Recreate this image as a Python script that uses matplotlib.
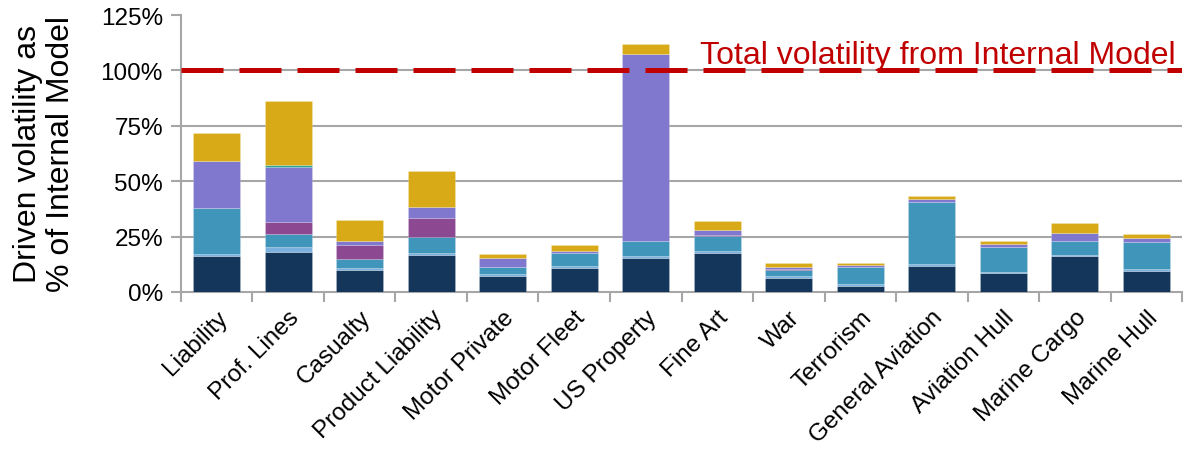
import numpy as np
from matplotlib import pyplot as plt

plt.rcParams['font.family'] = ['Liberation Sans', 'DejaVu Sans']

# Categories and stacked segments (in % of Internal Model volatility)
categories = ["Liability", "Prof. Lines", "Casualty", "Product Liability", "Motor Private",
              "Motor Fleet", "US Property", "Fine Art", "War", "Terrorism",
              "General Aviation", "Aviation Hull", "Marine Cargo", "Marine Hull"]

navy = [16.3, 18.1, 10.1, 16.7, 7.4, 10.7, 15.5, 17.8, 6.5, 2.6, 11.6, 8.4, 16.1, 9.6]
light_blue = [1.0, 2.2, 0.5, 0.8, 0.6, 0.9, 0.8, 0.9, 0.7, 1.0, 0.9, 0.8, 0.8, 0.8]
teal = [20.5, 5.8, 4.2, 7.5, 3.4, 6.2, 6.6, 6.6, 2.9, 7.7, 28.2, 11.3, 6.0, 12.3]
magenta = [0, 5.4, 6.2, 8.6, 0, 0, 0, 0.3, 0.3, 0, 0, 0, 0, 0]
lavender = [21.1, 25.0, 1.8, 4.8, 4.1, 0.9, 84.6, 2.4, 0.9, 0.9, 1.3, 1.2, 3.9, 1.6]
green = [0, 0.7, 0, 0, 0, 0, 0, 0, 0, 0, 0, 0, 0, 0]
gold = [12.8, 28.8, 9.7, 16.1, 1.7, 2.4, 4.6, 4.1, 1.7, 0.9, 1.5, 1.5, 4.2, 1.9]

segments = [navy, light_blue, teal, magenta, lavender, green, gold]
colors = ['#14365A', '#7CB0DE', '#4096BA', '#8D4892', '#8078CE', '#2FA39A', '#D9AA18']

total_line = 100
yticks = [0, 25, 50, 75, 100, 125]

fig = plt.figure(figsize=(11.93, 4.52), dpi=100)
ax = fig.add_axes([0.1517, 0.3518, 0.8391, 0.6128])

x = np.arange(len(categories))
bottom = np.zeros(len(categories))
for seg, col in zip(segments, colors):
    ax.bar(x, seg, bottom=bottom, width=0.66, color=col,
           edgecolor=(1, 1, 1, 0.2), linewidth=0.6, zorder=3)
    bottom += np.array(seg)

# gridlines
for t in yticks[1:-1]:
    ax.axhline(t, color='#A6A6A6', lw=1.5, zorder=1)

ax.axhline(total_line, color='#C00000', lw=3.6, dashes=(8.4, 3.2), zorder=4)
ax.text(0.994, 0.8, "Total volatility from Internal Model", transform=ax.transAxes,
        ha='right', va='bottom', color='#C00000', fontsize=23)

ax.set_xlim(-0.5, len(categories) - 0.5)
ax.set_ylim(0, 125)
ax.set_yticks(yticks)
ax.set_yticklabels([f"{t}%" for t in yticks], fontsize=17.5)
ax.set_xticks(x)
ax.set_xticklabels(categories, rotation=45, ha='right', rotation_mode='anchor', fontsize=17.5)
ax.tick_params(axis='x', length=0, pad=10)
ax.set_xticks(np.arange(-0.5, len(categories)), minor=True)
ax.tick_params(axis='x', which='minor', length=7, color='#A6A6A6', width=1.5)
ax.tick_params(axis='y', length=7, color='#A6A6A6', width=1.5, pad=6)

for s in ['top', 'right']:
    ax.spines[s].set_visible(False)
for s in ['left', 'bottom']:
    ax.spines[s].set_color('#A6A6A6')
    ax.spines[s].set_linewidth(1.5)

ax.set_ylabel("Driven volatility as\n% of Internal Model", fontsize=23, labelpad=18,
              linespacing=1.12)

plt.savefig("out.png", dpi=100)
